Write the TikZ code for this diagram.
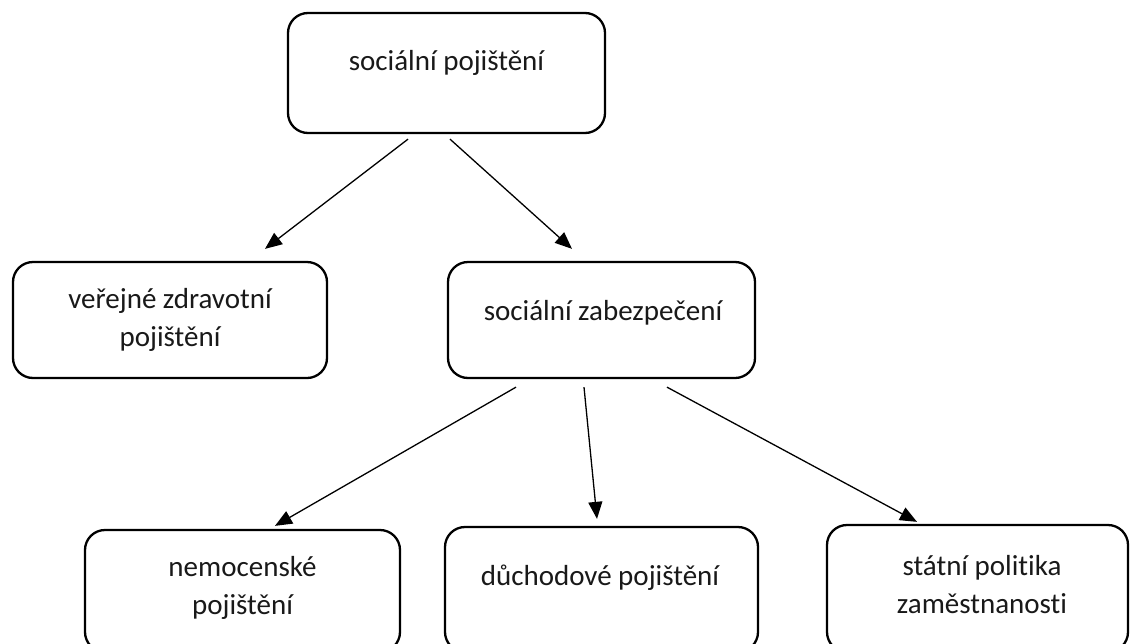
\documentclass[tikz,border=0pt]{standalone}
\usepackage{fontspec}
\setmainfont{Carlito}[Ligatures={NoCommon}]
\usetikzlibrary{arrows.meta,calc}
\begin{document}
\begin{tikzpicture}[x=1pt,y=-1pt,
  box/.style={draw=black,line width=2.3pt,rounded corners=20pt,inner sep=0pt},
  txt/.style={font=\fontsize{29}{38}\selectfont,text=black!90,align=center},
  arr/.style={line width=1.3pt,-{Triangle[length=17pt,width=14pt]}}]
\useasboundingbox (0,0) rectangle (1130,643);
\fill[white] (0,0) rectangle (1130,643);
% boxes
\node[box,minimum width=317pt,minimum height=120pt] (top) at (446.5,73) {};
\node[txt] (toptxt) at (446.5,63) {sociální pojištění};
\node[box,minimum width=314pt,minimum height=116pt] (vz) at (170,320) {};
\node[txt] (vztxt) at (170,320) {veřejné zdravotní\\pojištění};
\node[box,minimum width=307pt,minimum height=116pt] (sz) at (601.5,320) {};
\node[txt] (sztxt) at (603,313) {sociální zabezpečení};
\node[box,minimum width=315pt,minimum height=122pt] (nem) at (242.5,591) {};
\node[txt] (nemtxt) at (242.5,588) {nemocenské\\pojištění};
\node[box,minimum width=313pt,minimum height=125pt] (duch) at (601.5,589.5) {};
\node[txt] (duchtxt) at (600,578) {důchodové pojištění};
\node[box,minimum width=301pt,minimum height=127pt] (stat) at (977.5,588.5) {};
\node[txt] (stattxt) at (982,585) {státní politika\\zaměstnanosti};
% arrows
\draw[arr] ($(top.south)+(-38.5,5)$) -- ($(vz.north)+(95,-12)$);
\draw[arr] ($(top.south)+(3.5,5)$) -- ($(sz.north)+(-29.5,-12)$);
\draw[arr] ($(sz.south)+(-85.5,8)$) -- ($(nem.north)+(32.5,-3)$);
\draw[arr] ($(sz.south)+(-17.5,8)$) -- ($(duch.north)+(-4.5,-7)$);
\draw[arr] ($(sz.south)+(65.5,8)$) -- ($(stat.north)+(-60.5,-2)$);
\end{tikzpicture}
\end{document}
